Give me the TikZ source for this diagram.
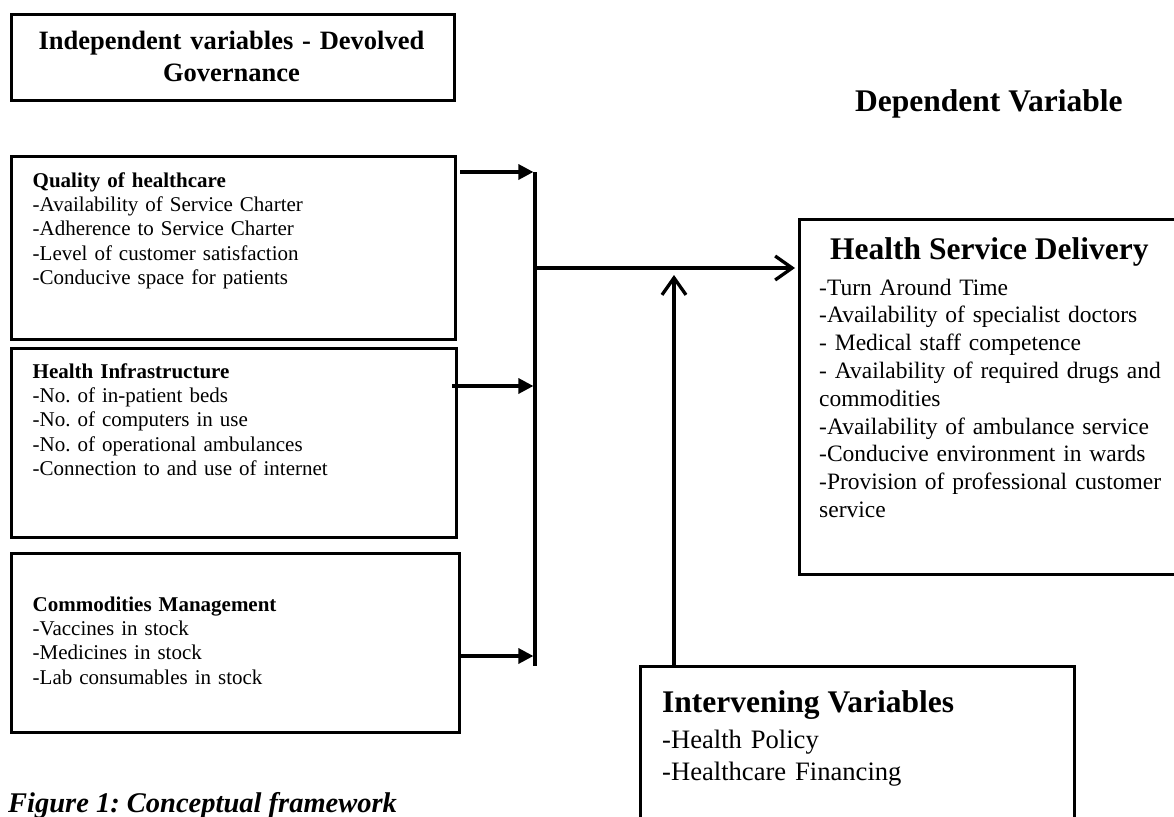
\documentclass[tikz,border=0pt]{standalone}
\usepackage{fontspec}
\setmainfont{Liberation Serif}
\frenchspacing
\usetikzlibrary{arrows.meta}
\tikzstyle{varbox}=[draw,rectangle,line width=3.3pt,inner sep=0pt,anchor=north west]
\tikzstyle{boxtext}=[inner sep=0pt,anchor=base west,text width=420pt,align=left,font=\fontsize{21}{24.4}\selectfont]
\tikzstyle{bigtext}=[inner sep=0pt,anchor=base west,font=\bfseries\fontsize{31.5}{36}\selectfont]
\tikzstyle{fillarrow}=[line width=3.3pt,-{Triangle[length=15pt,width=15pt]}]
\tikzstyle{openarrow}=[line width=3.3pt,-{Straight Barb[length=17pt,width=24pt]}]

\begin{document}
\begin{tikzpicture}[x=1pt,y=-1pt]
\useasboundingbox (0,0) rectangle (1174,816);
\clip (0,0) rectangle (1174,816);

% boxes
\node[varbox] (indep) at (10,13) [minimum width=443, minimum height=86] {};
\node[varbox] (quality) at (10,155) [minimum width=444, minimum height=183] {};
\node[varbox] (infra) at (10,347) [minimum width=445, minimum height=189] {};
\node[varbox] (commod) at (10,552) [minimum width=448, minimum height=179] {};
\node[varbox] (delivery) at (798,218) [minimum width=400, minimum height=355] {};
\node[varbox] (interv) at (639,665) [minimum width=434, minimum height=190] {};

% texts
\node[boxtext,anchor=base,text width=440pt,align=center,font=\bfseries\fontsize{26.5}{32}\selectfont] (indeptext) at (231.5,50) {Independent variables - Devolved\\Governance};
\node[bigtext] (dependent) at (855,111) {Dependent Variable};

\node[boxtext] (qualitytext) at (32.5,187) {\textbf{Quality of healthcare}\\-Availability of Service Charter\\-Adherence to Service Charter\\-Level of customer satisfaction\\-Conducive space for patients};
\node[boxtext] (infratext) at (32.5,378) {\textbf{Health Infrastructure}\\-No. of in-patient beds\\-No. of computers in use\\-No. of operational ambulances\\-Connection to and use of internet};
\node[boxtext] (commodtext) at (32.5,611) {\textbf{Commodities Management}\\-Vaccines in stock\\-Medicines in stock\\-Lab consumables in stock};

\node[bigtext] (deliverytitle) at (830,259) {Health Service Delivery};
\node[boxtext,text width=360pt,font=\fontsize{23.5}{27.8}\selectfont] (deliverytext) at (819,295) {-Turn Around Time\\-Availability of specialist doctors\\- Medical staff competence\\- Availability of required drugs and\\commodities\\-Availability of ambulance service\\-Conducive environment in wards\\-Provision of professional customer\\service};

\node[bigtext] (intervtitle) at (662,712) {Intervening Variables};
\node[boxtext,font=\fontsize{26.6}{32}\selectfont] (intervtext) at (662,748) {-Health Policy\\-Healthcare Financing};

\node[inner sep=0pt,anchor=base west,font=\bfseries\itshape\fontsize{28.5}{34}\selectfont] (caption) at (8,812) {Figure 1: Conceptual framework};

% bar and arrows
\coordinate (barq) at (535,172);
\coordinate (barh) at (535,386);
\coordinate (barm) at (535,268);
\coordinate (barc) at (535,666);
\coordinate (barcin) at (535,656);
\coordinate (upend) at (674,275);

\draw[line width=3.3pt] (barq) -- (barc);
\draw[fillarrow] ([xshift=3pt]quality.east |- barq) -- ([xshift=-1.6pt]barq);
\draw[fillarrow] ([xshift=-6pt]infra.east |- barh) -- ([xshift=-1.6pt]barh);
\draw[fillarrow] (commod.east |- barcin) -- ([xshift=-1.6pt]barcin);
\draw[openarrow] (barm) -- ([xshift=-3pt]delivery.west |- barm);
\draw[openarrow] (interv.north west -| upend) -- (upend);

\end{tikzpicture}
\end{document}
